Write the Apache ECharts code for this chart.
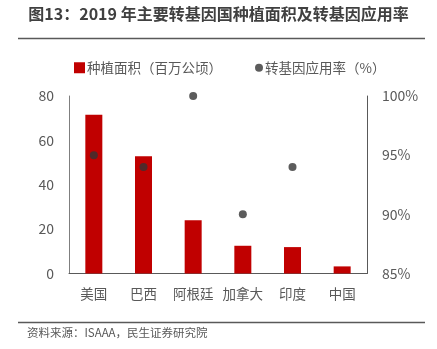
<!DOCTYPE html>
<html><head><meta charset="utf-8">
<script src="https://cdn.jsdelivr.net/npm/echarts@6/dist/echarts.min.js"></script>
<style>html,body{margin:0;padding:0;background:#fff}#c{width:437px;height:349px}</style>
</head><body><div id="c"></div>
<script>
const categories = ['美国','巴西','阿根廷','加拿大','印度','中国'];
const areaValues = [71.5, 52.8, 24.0, 12.5, 11.9, 3.2];
const rateValues = [95, 94, 100, 90, 94, '-'];
const leftTicks = {min: 0, max: 80, interval: 20};
const rightTicks = {min: 85, max: 100, interval: 5};

const FONT = '"Noto Sans CJK SC", sans-serif';
const chart = echarts.init(document.getElementById('c'), null, {renderer: 'canvas'});
chart.setOption({
  animation: false,
  textStyle: {fontFamily: FONT},
  title: {
    text: '图13：2019 年主要转基因国种植面积及转基因应用率',
    left: 'center', top: 1,
    textStyle: {fontFamily: FONT, fontSize: 16, fontWeight: 'bold', color: '#404040'}
  },
  graphic: [
    {type: 'line', shape: {x1: 18, y1: 38.5, x2: 425, y2: 38.5}, style: {stroke: '#595959', lineWidth: 1.5}},
    {type: 'line', shape: {x1: 18, y1: 322.5, x2: 425, y2: 322.5}, style: {stroke: '#595959', lineWidth: 1.5}},
    {type: 'text', left: 27, top: 327, style: {text: '资料来源：ISAAA，民生证券研究院', font: '11.5px "Noto Sans CJK SC"', fill: '#595959'}}
  ],
  legend: [
    {top: 56, left: 69, itemGap: 0, itemWidth: 11, itemHeight: 11,
     textStyle: {fontFamily: FONT, fontSize: 13.5, color: '#595959', padding: [0, 0, 0, -3]},
     data: [{name: '种植面积（百万公顷）', icon: 'rect'}]},
    {top: 56, left: 250, itemGap: 0, itemWidth: 8, itemHeight: 8,
     textStyle: {fontFamily: FONT, fontSize: 13.5, color: '#595959', padding: [0, 0, 0, -3]},
     data: [{name: '转基因应用率（%）', icon: 'circle'}]}
  ],
  grid: {left: 69, right: 70, top: 96, bottom: 75.5},
  xAxis: {
    type: 'category', data: categories,
    axisLine: {lineStyle: {color: '#595959', width: 1}},
    axisTick: {show: false},
    axisLabel: {color: '#595959', fontSize: 13.5, margin: 14, fontFamily: FONT, interval: 0}
  },
  yAxis: [
    {type: 'value', min: leftTicks.min, max: leftTicks.max, interval: leftTicks.interval,
     splitLine: {show: false},
     axisLine: {show: true, lineStyle: {color: '#7f7f7f'}},
     axisTick: {show: false},
     axisLabel: {color: '#595959', fontSize: 14, margin: 15, fontFamily: FONT}},
    {type: 'value', min: rightTicks.min, max: rightTicks.max, interval: rightTicks.interval,
     position: 'right', splitLine: {show: false},
     axisLine: {show: true, lineStyle: {color: '#595959'}},
     axisTick: {show: false},
     axisLabel: {color: '#595959', fontSize: 14, margin: 15, fontFamily: FONT, formatter: '{value}%'}}
  ],
  series: [
    {name: '种植面积（百万公顷）', type: 'bar', data: areaValues, barWidth: 17,
     itemStyle: {color: '#C00000'}, yAxisIndex: 0},
    {name: '转基因应用率（%）', type: 'scatter', data: rateValues, yAxisIndex: 1,
     symbol: 'circle', symbolSize: 8, itemStyle: {color: '#333333'}}
  ]
});
</script></body></html>
